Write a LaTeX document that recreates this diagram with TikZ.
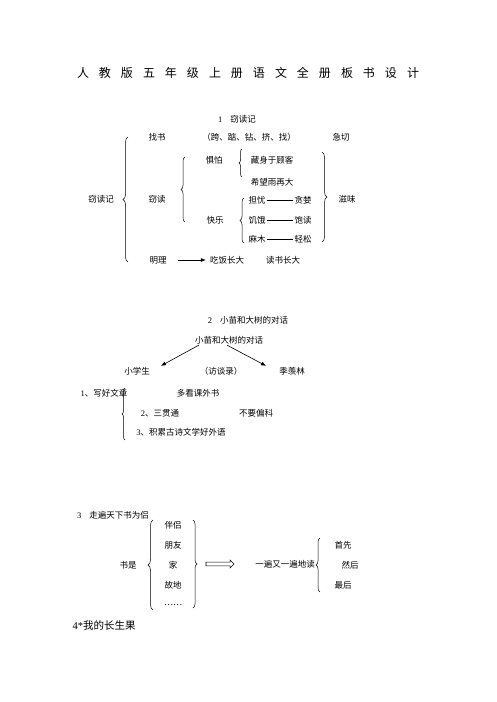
\documentclass[tikz,border=0pt]{standalone}
\usepackage{fontspec}
\setmainfont{Liberation Serif}
\newfontfamily\cjk{Noto Sans CJK SC}
\usepackage{tikz}
\usetikzlibrary{arrows.meta,decorations.pathreplacing,shapes.arrows}

\newcommand{\dg}[1]{{\rmfamily #1}}
\newcommand{\tgap}{\hspace{10pt}}

\begin{document}
\begin{tikzpicture}[
    x=1pt, y=-1pt,
    txt/.style   ={font=\cjk\fontsize{8.5}{10}\selectfont, inner sep=1pt},
    ttl/.style   ={font=\cjk\fontsize{12}{14}\selectfont, inner sep=1pt},
    big/.style   ={font=\cjk\fontsize{10.5}{12}\selectfont, inner sep=1pt},
    brc/.style   ={decorate, decoration={brace, amplitude=#1}, line width=0.5pt},
    brc/.default=4pt,
    flow/.style  ={-{Latex[length=5pt,width=4pt]}, line width=0.6pt},
    bar/.style   ={line width=0.5pt},
    hollow/.style={shape=single arrow, draw, line width=0.6pt,
                   inner xsep=0pt, inner ysep=1.6pt,
                   minimum height=28pt,
                   single arrow head extend=2pt, single arrow head indent=0pt}
]
\useasboundingbox (0,0) rectangle (496,702);

% --- Title line. ---
\node[ttl] (title) at (248,73)
  {人\tgap 教\tgap 版\tgap 五\tgap 年\tgap 级\tgap 上\tgap 册\tgap
   语\tgap 文\tgap 全\tgap 册\tgap 板\tgap 书\tgap 设\tgap 计};

% --- 1: the reading-in-secret board. ---
\node[txt] (s1)     at (237,119) {\dg{1}\hspace{8pt}窃读记};
\node[txt] (root)   at (101,199) {窃读记};
\node[txt] (zhao)   at (157,137) {找书};
\node[txt] (acts)   at (249,137) {（跨、踮、钻、挤、找）};
\node[txt] (jiqie)  at (341,137) {急切};
\node[txt] (qiedu)  at (157,199) {窃读};
\node[txt] (jupa)   at (214,160) {惧怕};
\node[txt] (cang)   at (272,160) {藏身于顾客};
\node[txt] (xiwang) at (272,182) {希望雨再大};
\node[txt] (kuai)   at (215,220) {快乐};
\node[txt] (dan)    at (257,200) {担忧};
\node[txt] (tan)    at (303,200) {贪婪};
\node[txt] (ji)     at (257,220) {饥饿};
\node[txt] (bao)    at (303,220) {饱读};
\node[txt] (ma)     at (257,239) {麻木};
\node[txt] (qing)   at (303,239) {轻松};
\node[txt] (ziwei)  at (347,199) {滋味};
\node[txt] (ming)   at (158,260) {明理};
\node[txt] (chi)    at (227,260) {吃饭长大};
\node[txt] (du)     at (283,260) {读书长大};

\draw[brc=5pt] (128,262) -- (128,137);
\draw[brc]     (185,222) -- (185,157);
\draw[brc=3pt] (242,177) -- (242,149);
\draw[brc]     (244,243) -- (244,198);
\draw[brc=5pt] (322,152) -- (322,242);

\draw[bar]  (dan) -- (tan);
\draw[bar]  (ji)  -- (bao);
\draw[bar]  (ma)  -- (qing);
\draw[flow] ([xshift=10pt]ming.east) -- ([xshift=-3pt]chi.west);

% --- 2: the sapling and the tree. ---
\node[txt] (s2)     at (248,320) {\dg{2}\hspace{8pt}小苗和大树的对话};
\node[txt] (dialog) at (229,340) {小苗和大树的对话};
\node[txt] (stud)   at (137,371) {小学生};
\node[txt] (talk)   at (221,371) {（访谈录）};
\node[txt] (jxl)    at (292,371) {季羡林};

\draw[flow] ([xshift=5pt]dialog.south west) -- ([xshift=10pt]stud.north east);
\draw[flow] ([xshift=-2pt]dialog.south)     -- ([xshift=-12pt]jxl.north west);

\node[txt] (w1)  at (104,393) {\dg{1}、写好文章};
\node[txt] (w1b) at (198,393) {多看课外书};
\node[txt] (w2)  at (160,413) {\dg{2}、三贯通};
\node[txt] (w2b) at (256,413) {不要偏科};
\node[txt] (w3)  at (181,432) {\dg{3}、积累古诗文学好外语};

\draw[brc=3pt] (125,440) -- (125,388);

% --- 3: books as companions. ---
\node[txt] (s3)   at (113,515) {\dg{3}\hspace{8pt}走遍天下书为侣};
\node[txt] (shu)  at (128,565) {书是};
\node[txt] (bl)   at (173,525) {伴侣};
\node[txt] (py)   at (173,545) {朋友};
\node[txt] (jia)  at (173,565) {家};
\node[txt] (gd)   at (173,585) {故地};
\node[txt] (etc)  at (173,605) {……};
\node[hollow] (imply) at (219,564) {};
\node[txt] (read) at (285,564) {一遍又一遍地读};
\node[txt] (sx)   at (343,545) {首先};
\node[txt] (rh)   at (350,565) {然后};
\node[txt] (zh)   at (343,585) {最后};

\draw[brc=5pt] (153,610) -- (153,520);
\draw[brc=4pt] (193,520) -- (193,608);
\draw[brc=4pt] (320,592) -- (320,538);

% --- 4: last heading. ---
\node[big] (s4) at (104,625) {\dg{4*}我的长生果};

\end{tikzpicture}
\end{document}
